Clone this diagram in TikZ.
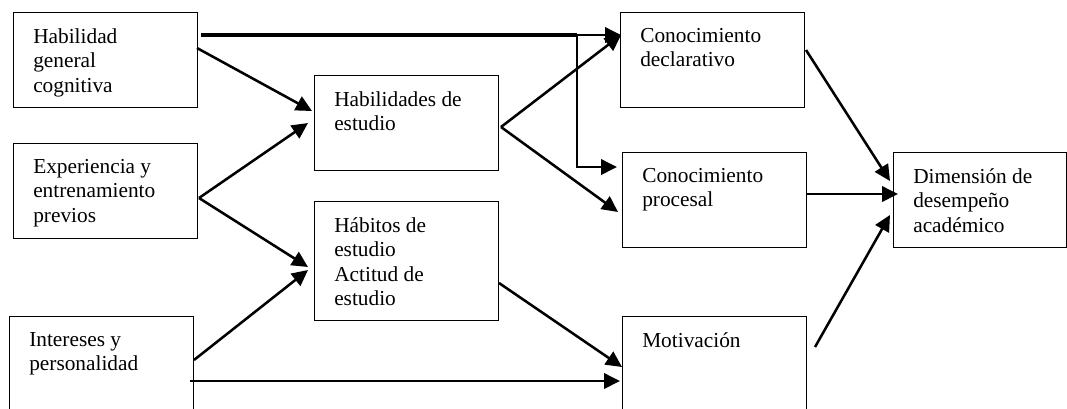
\documentclass[tikz,border=0pt]{standalone}
\usepackage{fontspec}
\setmainfont{Liberation Serif}
\usetikzlibrary{arrows.meta,calc}
\tikzset{
    caja/.style={
        rectangle,
        draw,
        line width=0.75pt,
        anchor=north west,
        minimum width=138pt,
        minimum height=71.25pt,
        inner sep=0pt
    },
    txt/.style={
        anchor=north west,
        align=left,
        inner sep=0pt,
        xshift=15pt,
        yshift=-12pt,
        font=\fontsize{16}{18.4}\selectfont
    },
    flecha/.style={-{Triangle[length=12pt,width=11.5pt]}, line width=1.9pt},
    gruesa/.style={line width=3pt}
}

\begin{document}
\begin{tikzpicture}[x=0.75pt,y=0.75pt]
        % marco de la figura
        \useasboundingbox (0,0) rectangle (1067,-408);

        % cajas de la izquierda
        \node[caja, label={[txt, name=hgct]north west:Habilidad\\general\\cognitiva}] (hgc) at (13,-12) {};
        \node[caja, label={[txt, name=expt]north west:Experiencia y\\entrenamiento\\previos}] (exp) at (13,-143) {};
        \node[caja, label={[txt, name=intt]north west:Intereses y\\personalidad}] (int) at (9,-316) {};

        % cajas del centro
        \node[caja, label={[txt, name=hdet]north west:Habilidades de\\estudio}] (hde) at (314,-75) {};
        \node[caja, minimum height=89.25pt, label={[txt, name=habt]north west:Hábitos de\\estudio\\Actitud de\\estudio}] (hab) at (314,-201) {};

        % cajas de la derecha
        \node[caja, label={[txt, name=cdet]north west:Conocimiento\\declarativo}] (cde) at (620,-12) {};
        \node[caja, label={[txt, name=cprt]north west:Conocimiento\\procesal}] (cpr) at (622,-152) {};
        \node[caja, label={[txt, name=mott]north west:Motivación}] (mot) at (622,-316) {};
        \node[caja, minimum width=129.75pt, label={[txt, name=dimt]north west:Dimensión de\\desempeño\\académico}] (dim) at (893,-152) {};

        % linea gruesa y bifurcacion
        \coordinate (J) at (577,-35);
        \draw[gruesa] ($(hgc.north east)+(3,-23)$) -- (J);
        \draw[flecha] (J) -- ($(cde.north west)+(1,-23)$);
        \draw[flecha] (J) |- ($(cpr.north west)+(-5,-15)$);

        % flechas hacia el centro
        \draw[flecha] ($(hgc.north east)+(-1,-36)$) -- ($(hde.north west)+(-2,-36)$);
        \draw[flecha] ($(exp.north east)+(1,-55)$) -- ($(hde.north west)+(-6,-48)$);
        \draw[flecha] ($(exp.north east)+(1,-55)$) -- ($(hab.north west)+(-6,-66)$);
        \draw[flecha] ($(int.north east)+(0,-44)$) -- ($(hab.north west)+(-6,-69)$);
        \draw[flecha] ($(int.north east)+(-4,-65)$) -- ($(mot.north west)+(-2,-65)$);

        % flechas hacia la derecha
        \draw[flecha] ($(hde.north east)+(2,-52)$) -- ($(cde.north west)+(1,-23)$);
        \draw[flecha] ($(hde.north east)+(2,-52)$) -- ($(cpr.north west)+(-4,-60)$);
        \draw[flecha] ($(hab.north east)+(0,-82)$) -- ($(mot.north west)+(0,-51)$);

        % flechas hacia el desempeno
        \draw[flecha] ($(cde.north east)+(1,-38)$) -- ($(dim.north west)+(-3,-29)$);
        \draw[flecha] ($(cpr.north east)+(0,-42)$) -- ($(dim.north west)+(5,-42)$);
        \draw[flecha] ($(mot.north east)+(8,-31)$) -- ($(dim.north west)+(-3,-63)$);
    \end{tikzpicture}
\end{document}
